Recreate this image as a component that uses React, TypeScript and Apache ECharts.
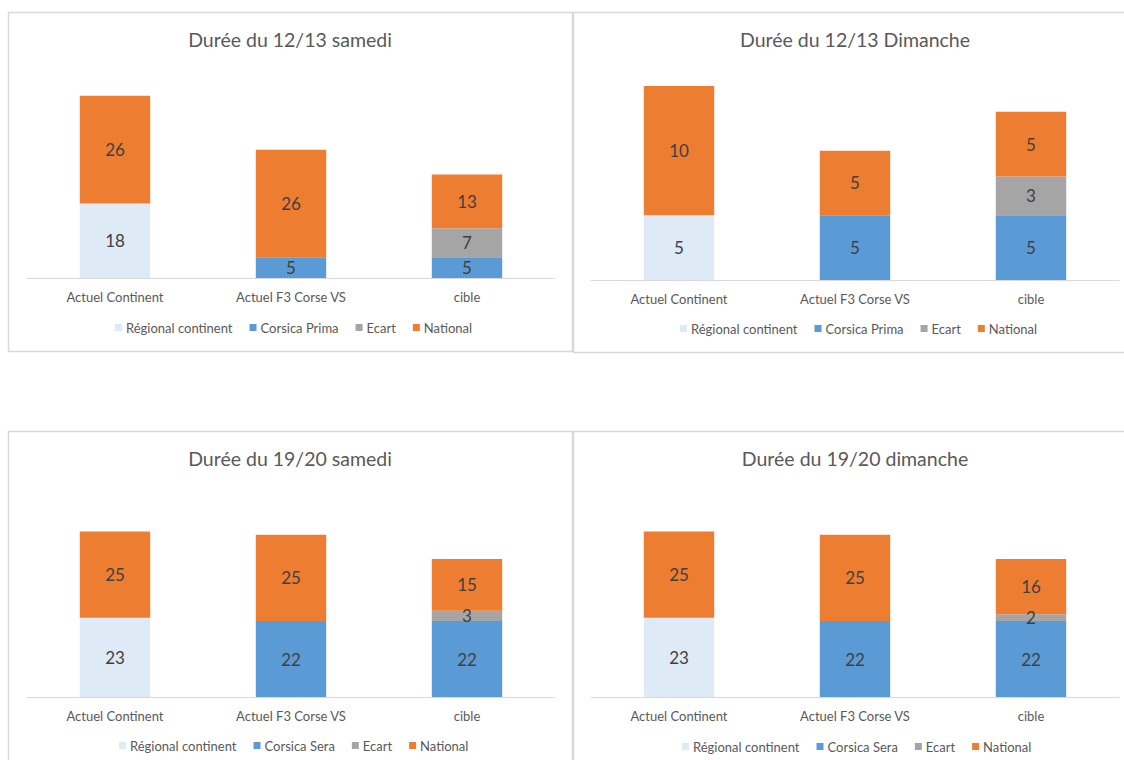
import React, { useEffect, useRef } from "react";
import * as echarts from "echarts";

const categories = ["Actuel Continent", "Actuel F3 Corse VS", "cible"];

const titles = [
  "Durée du 12/13 samedi",
  "Durée du 12/13 Dimanche",
  "Durée du 19/20 samedi",
  "Durée du 19/20 dimanche",
];

const corsicaNames = ["Corsica Prima", "Corsica Prima", "Corsica Sera", "Corsica Sera"];

// per chart: [Actuel Continent, Actuel F3 Corse VS, cible]
const regional = [
  [18, null, null],
  [5, null, null],
  [23, null, null],
  [23, null, null],
];
const corsica = [
  [null, 5, 5],
  [null, 5, 5],
  [null, 22, 22],
  [null, 22, 22],
];
const ecart = [
  [null, null, 7],
  [null, null, 3],
  [null, null, 3],
  [null, null, 2],
];
const national = [
  [26, 26, 13],
  [10, 5, 5],
  [25, 25, 15],
  [25, 25, 16],
];
const axisMax = [50, 16, 60, 60];

const COLORS = {
  regional: "#DEEBF7",
  corsica: "#5B9BD5",
  ecart: "#A5A5A5",
  national: "#ED7D31",
};

const FONT = "Lato, 'Noto Sans', sans-serif";

// layout of each panel
const panels = [
  { bx: 8, by: 12, bw: 564, bh: 339, gl: 27, gt: 71, gh: 207, tx: 290, ty: 29, lx: 115, ly: 321 },
  { bx: 573, by: 12, bw: 560, bh: 340, gl: 591, gt: 73, gh: 207, tx: 855, ty: 29, lx: 680, ly: 322 },
  { bx: 8, by: 431, bw: 564, bh: 340, gl: 27, gt: 490, gh: 207, tx: 290, ty: 448, lx: 119, ly: 739 },
  { bx: 573, by: 431, bw: 560, bh: 340, gl: 591, gt: 490, gh: 207, tx: 855, ty: 448, lx: 682, ly: 740 },
];

export default function App() {
  const ref = useRef<HTMLDivElement>(null);
  useEffect(() => {
    if (!ref.current) return;
    const chart = echarts.init(ref.current, null, { renderer: "svg" });
    const grid: any[] = [];
    const xAxis: any[] = [];
    const yAxis: any[] = [];
    const title: any[] = [];
    const legend: any[] = [];
    const series: any[] = [];
    const graphic: any[] = [];

    panels.forEach((p, i) => {
      graphic.push({
        type: "rect",
        z: -10,
        silent: true,
        shape: { x: p.bx + 0.5, y: p.by + 0.5, width: p.bw, height: p.bh },
        style: { fill: "#ffffff", stroke: "#D9D9D9", lineWidth: 1.5 },
      });
      grid.push({ left: p.gl, top: p.gt, width: 528, height: p.gh, containLabel: false });
      xAxis.push({
        type: "category",
        gridIndex: i,
        data: categories,
        axisLine: { lineStyle: { color: "#D9D9D9", width: 1 } },
        axisTick: { show: false },
        axisLabel: { color: "#595959", fontSize: 13, fontFamily: FONT, margin: 12 },
      });
      yAxis.push({
        type: "value",
        gridIndex: i,
        min: 0,
        max: axisMax[i],
        show: false,
        splitLine: { show: false },
      });
      title.push({
        text: titles[i],
        left: p.tx,
        top: p.ty,
        textAlign: "center",
        padding: 0,
        textStyle: { color: "#595959", fontSize: 19.5, fontWeight: "normal", fontFamily: FONT },
      });
      const names = ["Régional continent", corsicaNames[i], "Ecart", "National"];
      legend.push({
        data: names,
        left: p.lx,
        width: 440,
        top: p.ly,
        itemWidth: 7,
        itemHeight: 7,
        itemGap: 17,
        padding: 0,
        icon: "rect",
        selectedMode: false,
        textStyle: { color: "#595959", fontSize: 13, fontFamily: FONT, padding: [0, 0, 0, -1] },
      });
      const defs = [
        { name: names[0], data: regional[i], color: COLORS.regional },
        { name: names[1], data: corsica[i], color: COLORS.corsica },
        { name: names[2], data: ecart[i], color: COLORS.ecart },
        { name: names[3], data: national[i], color: COLORS.national },
      ];
      defs.forEach((d) => {
        series.push({
          type: "bar",
          name: d.name,
          xAxisIndex: i,
          yAxisIndex: i,
          stack: "s" + i,
          barWidth: "40%",
          data: d.data.map((v) => (v === null ? "-" : v)),
          itemStyle: { color: d.color },
          label: {
            show: true,
            position: "inside",
            color: "#404040",
            fontSize: 17,
            fontFamily: FONT,
          },
        });
      });
    });

    chart.setOption({
      animation: false,
      backgroundColor: "#ffffff",
      graphic,
      grid,
      xAxis,
      yAxis,
      title,
      legend,
      series,
    });
    return () => chart.dispose();
  }, []);
  return (
    <div
      ref={ref}
      style={{ position: "fixed", left: 0, top: 0, width: 1124, height: 760 }}
    />
  );
}
